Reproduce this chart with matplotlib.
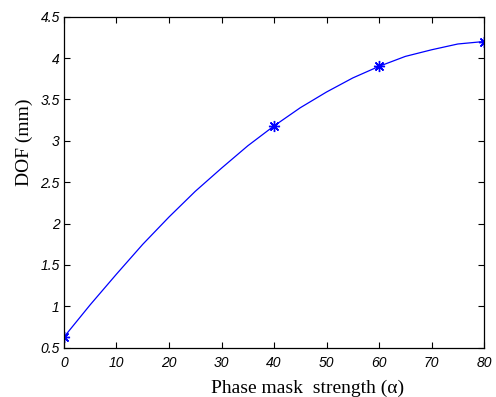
import matplotlib
matplotlib.use("Agg")
import matplotlib.pyplot as plt

# curve (alpha, DOF in mm)
alpha = [0, 5, 10, 15, 20, 25, 30, 35, 40, 45, 50, 55, 60, 65, 70, 75, 80]
dof = [0.63, 1.02, 1.39, 1.75, 2.08, 2.39, 2.67, 2.94, 3.18, 3.40, 3.59,
       3.76, 3.90, 4.02, 4.10, 4.17, 4.20]

# measured points (asterisk markers)
alpha_pts = [0, 40, 60, 80]
dof_pts = [0.63, 3.18, 3.90, 4.20]

fig = plt.figure(figsize=(4.96, 3.97), dpi=100)
ax = fig.add_axes([0.129, 0.124, 0.847, 0.834])

ax.plot(alpha, dof, color="#0000ff", linewidth=0.9)
ax.plot(alpha_pts, dof_pts, linestyle="none", marker=(8, 2, 0),
        color="#0000ff", markersize=8, markeredgewidth=1.0)

ax.set_xlim(0, 80)
ax.set_ylim(0.5, 4.5)
ax.set_xticks(range(0, 81, 10))
ax.set_yticks([0.5, 1, 1.5, 2, 2.5, 3, 3.5, 4, 4.5])
ax.set_yticklabels(["0.5", "1", "1.5", "2", "2.5", "3", "3.5", "4", "4.5"])

for s in ax.spines.values():
    s.set_linewidth(0.9)
ax.tick_params(direction="in", length=4, width=0.8, top=True, right=True,
               pad=3)
ax.tick_params(axis="x", pad=6)
for lab in ax.get_xticklabels() + ax.get_yticklabels():
    lab.set_fontfamily("Liberation Sans")
    lab.set_fontstyle("italic")
    lab.set_fontsize(10)

ax.set_xlabel("Phase mask  strength (\u03b1)", fontfamily="Liberation Serif",
              fontsize=14)
ax.set_ylabel("DOF (mm)", fontfamily="Liberation Serif", fontsize=14)
# labels sit off-centre in the original
ax.xaxis.set_label_coords(0.579, -0.095)
ax.yaxis.set_label_coords(-0.074, 0.621)

fig.savefig("out.png", dpi=100)
